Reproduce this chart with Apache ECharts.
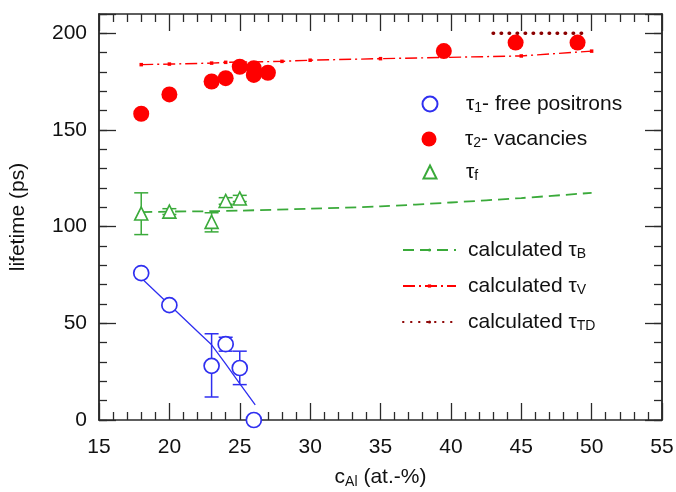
<!DOCTYPE html>
<html>
<head>
<meta charset="utf-8">
<script src="https://cdn.jsdelivr.net/npm/echarts@6/dist/echarts.min.js"></script>
<style>
  html, body { margin: 0; padding: 0; background: #fff; }
  #chart { width: 676px; height: 492px; }
</style>
</head>
<body>
<div id="chart"></div>
<script>
// tau1 - free positrons (open blue circles)
var tau1X = [18, 20, 23, 24, 25, 26];
var tau1Y = [76, 59.4, 28, 39.2, 26.9, 0];
var tau1ErrX = [23, 24, 25];
var tau1ErrLow = [11.9, 35.6, 18.3];
var tau1ErrHigh = [44.6, 42.8, 35.6];
// fitted line through tau1
var fitX = [18, 20, 22, 23, 24, 25, 26.1];
var fitY = [73.4, 59.6, 45.8, 38.9, 29, 18.8, 7.8];

// tau2 - vacancies (filled red circles)
var tau2X = [18, 20, 23, 24, 25, 26, 26, 27, 39.5, 44.6, 49];
var tau2Y = [158.4, 168.4, 175.1, 176.8, 182.7, 182, 178.5, 179.6, 190.8, 195.2, 195.2];

// tau_f (open green triangles)
var taufX = [18, 20, 23, 24, 25];
var taufY = [106.8, 107.8, 102.5, 113.3, 114.6];
var taufLow = [95.9, 106.3, 97.3, 111.6, 113];
var taufHigh = [117.5, 109.3, 107.2, 115, 116.2];

// calculated curves
var tauBX = [18, 20, 23, 25, 30, 35, 40, 45, 50];
var tauBY = [107.5, 107.8, 108, 108.3, 109.3, 110.5, 112.5, 114.8, 117.5];
var tauVX = [18, 20, 23, 24, 28, 30, 35, 45, 50];
var tauVY = [183.8, 184.1, 184.6, 185.0, 185.5, 186.1, 186.9, 188.3, 190.8];
var tauTDX = [43, 49.8];
var tauTDY = [200, 200];

var BLUE = '#2f2ff0';
var RED = '#ff0000';
var GREEN = '#3aaa3a';
var DARKRED = '#8b0000';
var AXIS = '#2a2a2a';
var FONT = "'Liberation Sans', Arial, sans-serif";

var labels = {
    'tau1': '{t|τ}{s|1}{t|- free positrons}',
    'tau2': '{t|τ}{s|2}{t|- vacancies}',
    'tauf': '{t|τ}{s|f}',
    'tauB': '{t|calculated τ}{s|B}',
    'tauV': '{t|calculated τ}{s|V}',
    'tauTD': '{t|calculated τ}{s|TD}'
};
var rich = {
    t: { fontSize: 21, fontFamily: FONT, color: '#111' },
    s: { fontSize: 14, fontFamily: FONT, color: '#111', padding: [9, 0, 0, 0] }
};

function pairs(xs, ys) {
    return xs.map(function (x, i) { return [x, ys[i]]; });
}

function legendItem(name, left, top, w, h, pad) {
    return {
        data: [name],
        left: left,
        top: top,
        itemWidth: w,
        itemHeight: h,
        padding: 0,
        selectedMode: false,
        formatter: function (n) { return labels[n]; },
        textStyle: { fontSize: 21, fontFamily: FONT, color: '#111', padding: [0, 0, 0, pad], rich: rich }
    };
}

function errorBars(name, xs, lows, highs, color) {
    return {
        type: 'custom',
        name: name,
        silent: true,
        z: 2,
        data: xs.map(function (x, i) { return [x, lows[i], highs[i]]; }),
        encode: { x: 0, y: [1, 2] },
        renderItem: function (params, api) {
            var lo = api.coord([api.value(0), api.value(1)]);
            var hi = api.coord([api.value(0), api.value(2)]);
            var w = 7;
            var st = { stroke: color, lineWidth: 1.5 };
            return {
                type: 'group',
                children: [
                    { type: 'line', shape: { x1: lo[0], y1: lo[1], x2: hi[0], y2: hi[1] }, style: st },
                    { type: 'line', shape: { x1: lo[0] - w, y1: lo[1], x2: lo[0] + w, y2: lo[1] }, style: st },
                    { type: 'line', shape: { x1: hi[0] - w, y1: hi[1], x2: hi[0] + w, y2: hi[1] }, style: st }
                ]
            };
        }
    };
}

function xAx(pos, showLabel) {
    return {
        type: 'value', position: pos, min: 15, max: 55, interval: 5,
        axisLine: { onZero: false, lineStyle: { color: AXIS, width: 1.5 } },
        axisTick: { inside: true, length: 17, lineStyle: { color: AXIS, width: 1.3 } },
        minorTick: { show: true, splitNumber: 5, length: 8, lineStyle: { color: AXIS, width: 1.3 } },
        splitLine: { show: false },
        axisLabel: { show: showLabel, fontSize: 21, fontFamily: FONT, color: '#111', margin: 17 }
    };
}

function yAx(pos, interval, tickLen, showLabel) {
    return {
        type: 'value', position: pos, min: 0, max: 210, interval: interval,
        axisLine: { onZero: false, lineStyle: { color: AXIS, width: 1.5 } },
        axisTick: { inside: true, length: tickLen, lineStyle: { color: AXIS, width: 1.3 } },
        splitLine: { show: false },
        axisLabel: {
            show: showLabel, fontSize: 21, fontFamily: FONT, color: '#111', margin: 12,
            formatter: function (v) { return v % 50 === 0 ? String(v) : ''; }
        }
    };
}

var chart = echarts.init(document.getElementById('chart'));

var xBottom = xAx('bottom', true);
xBottom.name = '{n|c}{s|Al}{n| (at.-%)}';
xBottom.nameLocation = 'middle';
xBottom.nameGap = 46;
xBottom.nameTextStyle = {
    rich: {
        n: { fontSize: 21, fontFamily: FONT, color: '#111' },
        s: { fontSize: 14, fontFamily: FONT, color: '#111', padding: [9, 0, 0, 0] }
    }
};

var yLeft = yAx('left', 50, 17, true);
yLeft.name = 'lifetime (ps)';
yLeft.nameLocation = 'middle';
yLeft.nameGap = 70;
yLeft.nameTextStyle = { fontSize: 21, fontFamily: FONT, color: '#111' };

var option = {
    backgroundColor: '#ffffff',
    animation: false,
    grid: { left: 99, right: 14, top: 14, bottom: 72, outerBoundsMode: 'none' },
    xAxis: [xBottom, xAx('top', false)],
    yAxis: [yLeft, yAx('left', 10, 8, false), yAx('right', 50, 17, false), yAx('right', 10, 8, false)],
    legend: [
        legendItem('tau1', 421.5, 93.5, 15, 15, 23.5),
        legendItem('tau2', 421.5, 128.5, 15, 15, 23.5),
        legendItem('tauf', 422.5, 161.5, 13, 13, 24.5),
        legendItem('tauB', 402, 239.5, 53, 4, 7),
        legendItem('tauV', 402, 275.5, 53, 4, 7),
        legendItem('tauTD', 402, 311.5, 53, 4, 7)
    ],
    series: [
        {
            name: 'tauB', type: 'line', data: pairs(tauBX, tauBY), symbol: 'none', smooth: 0.3,
            lineStyle: { color: GREEN, width: 1.8, type: [11, 6] }, itemStyle: { color: GREEN }, z: 1
        },
        {
            name: 'tauV', type: 'line', data: pairs(tauVX, tauVY), symbol: 'rect', symbolSize: 3.5, showSymbol: true,
            lineStyle: { color: RED, width: 1.4, type: [12, 4, 2, 4] }, itemStyle: { color: RED }, z: 1
        },
        {
            name: 'tauTD', type: 'line', data: pairs(tauTDX, tauTDY), symbol: 'none',
            lineStyle: { color: DARKRED, width: 3.5, type: [0.5, 7.5], cap: 'round' }, itemStyle: { color: DARKRED }, z: 1
        },
        {
            name: 'fit1', type: 'line', data: pairs(fitX, fitY), symbol: 'none',
            lineStyle: { color: BLUE, width: 1.3 }, z: 1
        },
        errorBars('err1', tau1ErrX, tau1ErrLow, tau1ErrHigh, BLUE),
        errorBars('errf', taufX, taufLow, taufHigh, GREEN),
        {
            name: 'tau2', type: 'scatter', data: pairs(tau2X, tau2Y), symbol: 'circle', symbolSize: 16,
            itemStyle: { color: RED, opacity: 1 }, z: 3
        },
        {
            name: 'tau1', type: 'scatter', data: pairs(tau1X, tau1Y), symbol: 'circle', symbolSize: 15,
            itemStyle: { color: '#ffffff', borderColor: BLUE, borderWidth: 1.7, opacity: 1 }, z: 4
        },
        {
            name: 'tauf', type: 'scatter', data: pairs(taufX, taufY), symbol: 'triangle', symbolSize: 13,
            itemStyle: { color: '#ffffff', borderColor: GREEN, borderWidth: 1.6, opacity: 1 }, z: 4
        }
    ]
};

chart.setOption(option);
</script>
</body>
</html>
